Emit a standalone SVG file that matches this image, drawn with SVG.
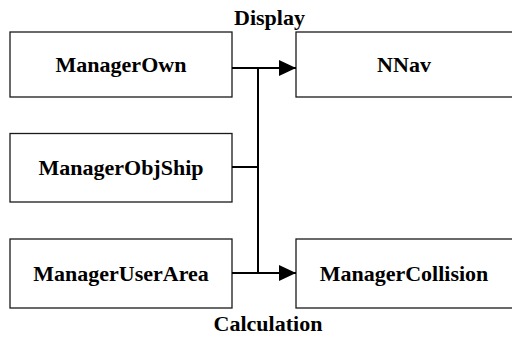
<svg xmlns="http://www.w3.org/2000/svg" width="512" height="337" viewBox="0 0 512 337">
<style>
.box{fill:#fff;stroke:#1a1a1a;stroke-width:1.3}
.t{font-family:"Liberation Serif","Times New Roman",serif;font-weight:bold;font-size:22px;fill:#000;text-anchor:middle}
.c{fill:none;stroke:#000;stroke-width:2}
</style>
<defs>
<marker id="ah" markerUnits="userSpaceOnUse" markerWidth="18" markerHeight="16" refX="17" refY="8" orient="auto">
<path d="M0,0 L17,8 L0,16 Z" fill="#000"/>
</marker>
</defs>
<rect width="512" height="337" fill="#fff"/>
<g id="ManagerOwn"><rect class="box" x="10" y="32" width="222" height="65"/><text class="t" x="121" y="72">ManagerOwn</text></g>
<g id="ManagerObjShip"><rect class="box" x="10" y="133.5" width="222" height="68.5"/><text class="t" x="121" y="175">ManagerObjShip</text></g>
<g id="ManagerUserArea"><rect class="box" x="10" y="239" width="222" height="69"/><text class="t" x="121" y="281">ManagerUserArea</text></g>
<g id="NNav"><rect class="box" x="296" y="32" width="220" height="65"/><text class="t" x="404" y="72">NNav</text></g>
<g id="ManagerCollision"><rect class="box" x="296" y="239" width="220" height="69"/><text class="t" x="404" y="281">ManagerCollision</text></g>
<g id="connectors">
<line class="c" x1="232" y1="68" x2="296" y2="68" marker-end="url(#ah)"/>
<line class="c" x1="232" y1="167" x2="258" y2="167"/>
<line class="c" x1="232" y1="273" x2="296" y2="273" marker-end="url(#ah)"/>
<line class="c" x1="258" y1="67" x2="258" y2="274"/>
</g>
<text class="t" x="269.5" y="25">Display</text>
<text class="t" x="268" y="331">Calculation</text>
</svg>
